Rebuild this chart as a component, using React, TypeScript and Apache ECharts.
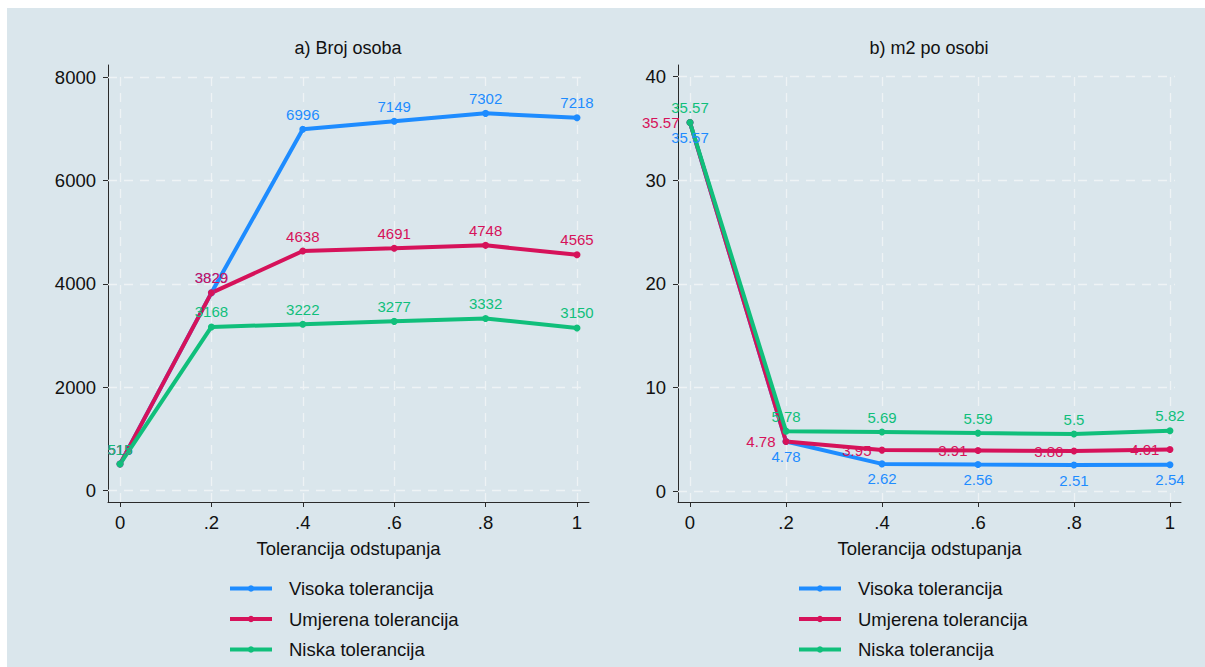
import React, { useEffect, useRef } from "react";
import * as echarts from "echarts";

const xValues = [0, 0.2, 0.4, 0.6, 0.8, 1];
const seriesNames = ["Visoka tolerancija", "Umjerena tolerancija", "Niska tolerancija"];
const colors = ["#1e8cff", "#d6125a", "#10bf7b"];

// a) Broj osoba
const brojVisoka = [515, 3829, 6996, 7149, 7302, 7218];
const brojUmjerena = [515, 3829, 4638, 4691, 4748, 4565];
const brojNiska = [515, 3168, 3222, 3277, 3332, 3150];

// b) m2 po osobi
const m2Visoka = [35.57, 4.78, 2.62, 2.56, 2.51, 2.54];
const m2Umjerena = [35.57, 4.78, 3.95, 3.91, 3.86, 4.01];
const m2Niska = [35.57, 5.78, 5.69, 5.59, 5.5, 5.82];

const leftYTicks = [0, 2000, 4000, 6000, 8000];
const rightYTicks = [0, 10, 20, 30, 40];

const titles = ["a) Broj osoba", "b) m2 po osobi"];
const xTitle = "Tolerancija odstupanja";

const FONT = '"Liberation Sans", Arial, Helvetica, sans-serif';

function fmtX(v: number) {
  if (v === 0) return "0";
  if (v === 1) return "1";
  return String(v).replace(/^0/, "");
}

export default function App() {
  const ref = useRef<HTMLDivElement>(null);
  useEffect(() => {
    if (!ref.current) return;
    const chart = echarts.init(ref.current, undefined, { renderer: "svg" });

    const grids = [
      { left: 108, top: 65, width: 481, height: 437 },
      { left: 678, top: 65, width: 503, height: 437 },
    ];
    const xRanges = [
      { min: -0.0263, max: 1.0263, pad: 0.011 },
      { min: -0.025, max: 1.023, pad: 0.0104 },
    ];
    const yRanges = [
      { min: -219, max: 8238, pad: 97, ticks: leftYTicks },
      { min: -1.06, max: 41.13, pad: 0.48, ticks: rightYTicks },
    ];

    const axisColor = "#2a2a2a";
    const xAxes = [0, 1].map((i) => ({
      type: "value",
      gridIndex: i,
      min: xRanges[i].min,
      max: xRanges[i].max,
      name: xTitle,
      nameLocation: "middle",
      nameGap: 37,
      nameTextStyle: { fontSize: 18.5, color: "#111", fontFamily: FONT },
      axisLine: { show: true, onZero: false, lineStyle: { color: axisColor, width: 1 } },
      axisTick: { show: true, customValues: xValues, length: 5, lineStyle: { color: axisColor } },
      axisLabel: {
        customValues: xValues,
        formatter: (v: number) => fmtX(v),
        margin: 11,
        fontSize: 18.5,
        color: "#111",
        fontFamily: FONT,
      },
      splitLine: { show: false },
    }));
    const yAxes = [0, 1].map((i) => ({
      type: "value",
      gridIndex: i,
      min: yRanges[i].min,
      max: yRanges[i].max,
      axisLine: { show: true, onZero: false, lineStyle: { color: axisColor, width: 1 } },
      axisTick: { show: true, customValues: yRanges[i].ticks, length: 5, lineStyle: { color: axisColor } },
      axisLabel: {
        customValues: yRanges[i].ticks,
        formatter: (v: number) => String(v),
        margin: 12,
        fontSize: 18.5,
        color: "#111",
        fontFamily: FONT,
      },
      splitLine: { show: false },
    }));

    const gridSeries = [0, 1].map((i) => {
      const xr = xRanges[i];
      const yr = yRanges[i];
      const yTop = yr.ticks[yr.ticks.length - 1] + yr.pad;
      const xRight = xValues[xValues.length - 1] + xr.pad;
      const lines: any[] = [];
      yr.ticks.forEach((y) => lines.push([{ coord: [xr.min, y] }, { coord: [xRight, y] }]));
      xValues.forEach((x) => lines.push([{ coord: [x, yr.min] }, { coord: [x, yTop] }]));
      return {
        type: "line",
        xAxisIndex: i,
        yAxisIndex: i,
        data: [],
        silent: true,
        markLine: {
          silent: true,
          z: 1,
          symbol: ["none", "none"],
          label: { show: false },
          animation: false,
          lineStyle: { color: "#eef3f5", width: 1.3, type: [9, 7] },
          emphasis: { disabled: true },
          data: lines,
        },
      };
    });

    const leftData = [brojVisoka, brojUmjerena, brojNiska];
    const rightData = [m2Visoka, m2Umjerena, m2Niska];
    const rightPos = ["bottom", "left", "top"];

    const mk = (i: number, gi: number, vals: number[], pos: string) => ({
      type: "line",
      name: seriesNames[i],
      xAxisIndex: gi,
      yAxisIndex: gi,
      z: 2,
      data: xValues.map((x, k) => [x, vals[k]]),
      symbol: "circle",
      symbolSize: 7,
      color: colors[i],
      lineStyle: { color: colors[i], width: 4 },
      itemStyle: { color: colors[i] },
      label: {
        show: true,
        position: pos,
        distance: pos === "left" ? 7 : 4,
        formatter: (p: any) => String(p.value[1]),
        color: colors[i],
        fontSize: 15,
        fontFamily: FONT,
      },
      emphasis: { disabled: true },
    });

    const dataSeries = [
      ...leftData.map((v, i) => mk(i, 0, v, "top")),
      ...rightData.map((v, i) => mk(i, 1, v, rightPos[i])),
    ];

    const legendCommon = {
      orient: "vertical",
      top: 579,
      padding: 0,
      itemWidth: 42,
      itemHeight: 8,
      itemGap: 11.5,
      data: seriesNames,
      lineStyle: { width: 4 },
      textStyle: {
        fontSize: 18.5,
        lineHeight: 18,
        color: "#111",
        fontFamily: FONT,
        padding: [0, 0, 0, 12],
      },
      selectedMode: false,
    };

    chart.setOption({
      animation: false,
      backgroundColor: "#ffffff",
      textStyle: { fontFamily: FONT },
      graphic: [
        {
          type: "rect",
          z: -100,
          silent: true,
          shape: { x: 7, y: 8, width: 1198, height: 720 },
          style: { fill: "#dae6ec" },
        },
        {
          type: "text",
          x: 348,
          y: 48,
          style: {
            text: titles[0],
            textAlign: "center",
            textVerticalAlign: "middle",
            fontSize: 18,
            fill: "#111",
            fontFamily: FONT,
          },
        },
        {
          type: "text",
          x: 929,
          y: 48,
          style: {
            text: titles[1],
            textAlign: "center",
            textVerticalAlign: "middle",
            fontSize: 18,
            fill: "#111",
            fontFamily: FONT,
          },
        },
      ],
      grid: grids,
      xAxis: xAxes,
      yAxis: yAxes,
      legend: [
        { ...legendCommon, left: 228 },
        { ...legendCommon, left: 797 },
      ],
      series: [...gridSeries, ...dataSeries],
    });

    return () => chart.dispose();
  }, []);

  return (
    <div
      ref={ref}
      style={{ position: "fixed", left: 0, top: 0, width: 1205, height: 740 }}
    />
  );
}
